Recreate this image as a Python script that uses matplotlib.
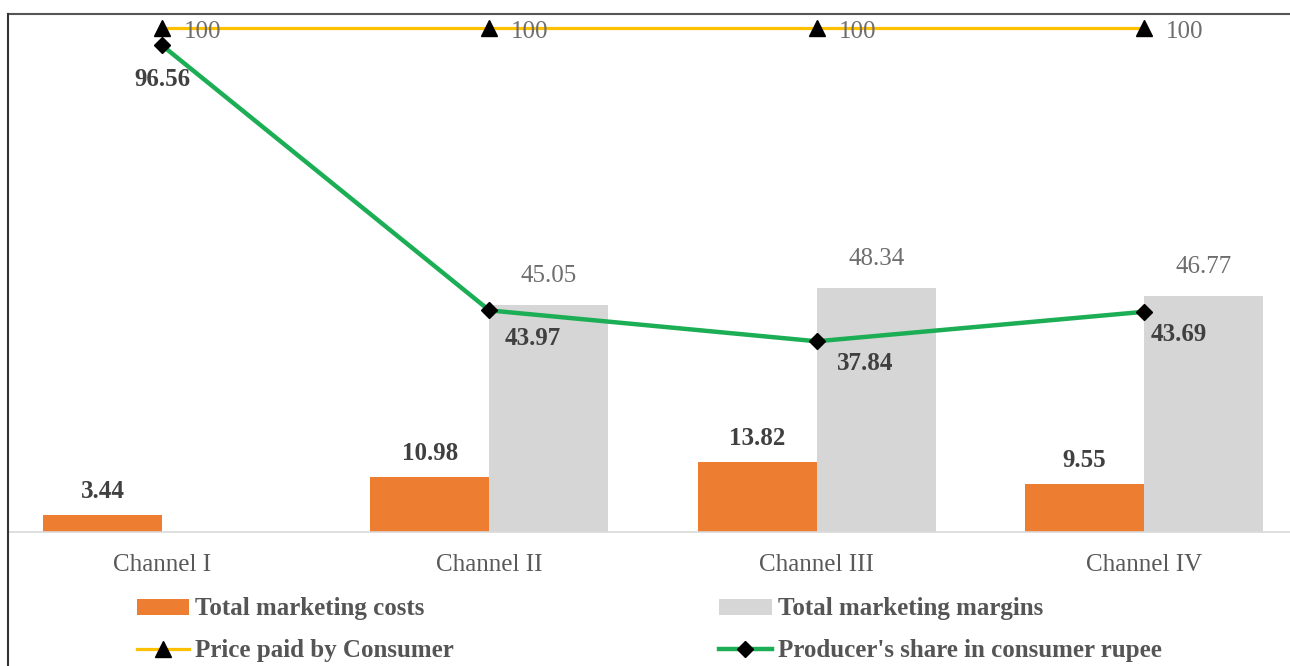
import matplotlib
matplotlib.use("Agg")
import matplotlib.pyplot as plt
from matplotlib.lines import Line2D
from matplotlib.patches import Patch
import numpy as np

channels = ["Channel I", "Channel II", "Channel III", "Channel IV"]
marketing_costs = [3.44, 10.98, 13.82, 9.55]
marketing_margins = [np.nan, 45.05, 48.34, 46.77]
price_paid = [100, 100, 100, 100]
producer_share = [96.56, 43.97, 37.84, 43.69]

plt.rcParams['font.family'] = ['Liberation Serif', 'DejaVu Serif']

W, H = 1290, 666
fig = plt.figure(figsize=(W / 100, H / 100), dpi=100)

left_px, right_px = 8, 1290
top_px, base_px = 14, 532
ax = fig.add_axes([left_px / W, (H - base_px) / H, (right_px - left_px) / W, (base_px - top_px) / H])

x = np.arange(len(channels))
spacing = 327.33
x0 = 162
ax.set_xlim((left_px - x0) / spacing, (right_px - x0) / spacing)
unit = (532 - 28) / 100.0
ax.set_ylim(0, (base_px - top_px) / unit)

bw = 119 / spacing
orange = '#ED7D31'
grey = '#D6D6D6'
yellow = '#FFC000'
green = '#1BAE55'
ax.bar(x - bw / 2, marketing_costs, width=bw, color=orange, zorder=2)
ax.bar(x + bw / 2, marketing_margins, width=bw, color=grey, zorder=2)
ax.plot(x, price_paid, color=yellow, lw=2.3, marker='^', ms=11,
        mfc='black', mec='black', zorder=3)
ax.plot(x, producer_share, color=green, lw=3.2, marker='D', ms=8.5,
        mfc='black', mec='black', zorder=4)

fs = 18
c_norm = '#6E6E6E'
c_bold = '#404040'
for i, v in enumerate(marketing_costs):
    ax.annotate(f"{v:.2f}", (x[i] - bw / 2, v), xytext=(0, 12), textcoords='offset pixels',
                ha='center', va='bottom', fontsize=fs, fontweight='bold', color=c_bold)
for i, v in enumerate(marketing_margins):
    if not np.isnan(v):
        ax.annotate(f"{v:.2f}", (x[i] + bw / 2, v), xytext=(0, 18), textcoords='offset pixels',
                    ha='center', va='bottom', fontsize=fs, color=c_norm)
for i, v in enumerate(price_paid):
    ax.annotate(f"{v}", (x[i], v), xytext=(22, -4), textcoords='offset pixels',
                ha='left', va='center', fontsize=fs, color=c_norm)
share_offsets = [(0, -34), (43, -28), (49, -22), (35, -23)]
for i, v in enumerate(producer_share):
    ax.annotate(f"{v:.2f}", (x[i], v), xytext=share_offsets[i], textcoords='offset pixels',
                ha='center', va='center', fontsize=fs, fontweight='bold', color=c_bold)

ax.set_xticks(x)
ax.set_xticklabels(channels, fontsize=fs, color='#595959')
ax.tick_params(axis='x', length=0, pad=16)
ax.set_yticks([])
ax.spines['right'].set_visible(False)
ax.spines['left'].set_visible(False)
ax.spines['bottom'].set_color('#D9D9D9')
ax.spines['bottom'].set_linewidth(1.2)
ax.spines['top'].set_color('#555555')
ax.spines['top'].set_linewidth(1.5)

fig.add_artist(Line2D([left_px / W, left_px / W], [0, (H - top_px) / H],
                      transform=fig.transFigure, color='#333333', lw=1.5))

handles = [
    Patch(facecolor=orange, edgecolor='none'),
    Line2D([], [], color=yellow, lw=2.3, marker='^', ms=11, mfc='black', mec='black'),
    Patch(facecolor=grey, edgecolor='none'),
    Line2D([], [], color=green, lw=3.2, marker='D', ms=8.5, mfc='black', mec='black'),
]
labels = ["Total marketing costs", "Price paid by Consumer",
          "Total marketing margins", "Producer's share in consumer rupee"]
leg = fig.legend(handles, labels, ncol=2, loc='upper left',
                 bbox_to_anchor=(114 / W, 1 - 575 / H), frameon=False,
                 prop={'size': fs, 'weight': 'bold'}, labelcolor='#555555',
                 handlelength=2.1, handleheight=0.6, handletextpad=0.25,
                 columnspacing=10.6, labelspacing=0.75)

fig.savefig("out.png", dpi=100)
